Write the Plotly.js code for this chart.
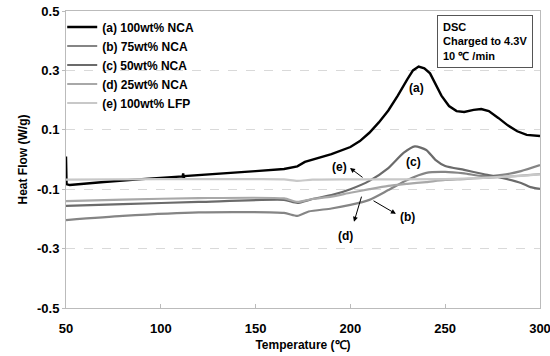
<!DOCTYPE html>
<html><head><meta charset="utf-8">
<script src="https://cdn.plot.ly/plotly-3.0.1.min.js"></script>
<style>body{margin:0;background:#fff}#c{width:550px;height:356px}</style>
</head><body><div id="c"></div>
<script>
// Temperature (°C) and heat flow (W/g)
const tA = [50, 50.3, 52, 60, 70, 90, 111.5, 111.8, 112.1, 112.4, 130, 150, 165, 172, 176, 180, 190, 200, 205, 210, 215, 220, 225, 230, 233, 236, 239, 242, 245, 248, 252, 256, 260, 265, 269, 273, 278, 283, 288, 293, 300];
const vA = [0.01, -0.083, -0.086, -0.081, -0.076, -0.066, -0.057, -0.047, -0.066, -0.056, -0.047, -0.039, -0.032, -0.023, -0.008, 0.0, 0.018, 0.042, 0.062, 0.09, 0.125, 0.165, 0.215, 0.27, 0.3, 0.313, 0.307, 0.29, 0.255, 0.215, 0.18, 0.163, 0.16, 0.167, 0.17, 0.163, 0.14, 0.115, 0.095, 0.083, 0.079];

const tB = [50, 80, 120, 165, 172, 178, 190, 200, 210, 220, 230, 240, 250, 260, 270, 280, 290, 300];
const vB = [-0.204, -0.19, -0.178, -0.18, -0.19, -0.175, -0.165, -0.153, -0.136, -0.103, -0.069, -0.045, -0.042, -0.047, -0.056, -0.052, -0.039, -0.019];

const tC = [50, 80, 120, 165, 172, 180, 190, 200, 210, 220, 228, 234, 240, 245, 250, 260, 270, 280, 290, 295, 300];
const vC = [-0.156, -0.15, -0.143, -0.136, -0.146, -0.133, -0.12, -0.1, -0.072, -0.029, 0.022, 0.044, 0.032, -0.002, -0.022, -0.035, -0.049, -0.062, -0.079, -0.093, -0.099];

const tD = [50, 80, 120, 165, 172, 180, 190, 200, 210, 220, 230, 240, 250, 260, 270, 280, 290, 300];
const vD = [-0.14, -0.135, -0.13, -0.131, -0.143, -0.133, -0.125, -0.112, -0.1, -0.089, -0.082, -0.076, -0.069, -0.066, -0.062, -0.059, -0.054, -0.049];

const tE = [50, 100, 150, 165, 172, 180, 200, 250, 270, 290, 300];
const vE = [-0.068, -0.066, -0.066, -0.067, -0.072, -0.068, -0.067, -0.066, -0.062, -0.055, -0.05];

const names = ['(a) 100wt% NCA', '(b) 75wt% NCA', '(c) 50wt% NCA', '(d) 25wt% NCA', '(e) 100wt% LFP'];
const yTicks = [-0.5, -0.3, -0.1, 0.1, 0.3, 0.5];
const xTicks = [50, 100, 150, 200, 250, 300];

const F = {family: 'Liberation Sans, Arial, sans-serif', size: 12, color: '#000', weight: 'bold'};
const FT = {family: F.family, size: 13, color: '#000', weight: 'bold'};

function tr(x, y, name, color, w) {
  return {x: x, y: y, name: name, type: 'scatter', mode: 'lines', line: {color: color, width: w, shape: 'spline', smoothing: 0.6}};
}
const data = [
  tr(tA, vA, names[0], '#000000', 2.4),
  tr(tB, vB, names[1], '#858585', 2.2),
  tr(tC, vC, names[2], '#6b6b6b', 2.2),
  tr(tD, vD, names[3], '#a8a8a8', 2.2),
  tr(tE, vE, names[4], '#c8c8c8', 2.2)
];
data[0].line.shape = 'linear';

function lab(x, y, t) { return {x: x, y: y, text: t, showarrow: false, font: F, xref: 'x', yref: 'y'}; }
function arr(x, y, ax, ay) {
  return {x: x, y: y, ax: ax, ay: ay, axref: 'x', ayref: 'y', xref: 'x', yref: 'y', text: '', showarrow: true,
          arrowhead: 2, arrowsize: 1, arrowwidth: 1, arrowcolor: '#000', standoff: 0, startstandoff: 0};
}

const layout = {
  width: 550, height: 356,
  margin: {l: 66, r: 10, t: 11, b: 48},
  paper_bgcolor: '#fff', plot_bgcolor: '#fff',
  font: F,
  showlegend: true,
  legend: {x: -0.008, y: 0.995, xanchor: 'left', yanchor: 'top', bgcolor: 'rgba(0,0,0,0)', font: F, tracegroupgap: 0, itemwidth: 30},
  xaxis: {range: [49.999, 300.001], tickvals: xTicks, ticktext: xTicks.map(String), ticks: 'inside', ticklen: 4, tickcolor: '#bbb',
          showgrid: false, zeroline: false, showline: true, linecolor: '#bbb', linewidth: 1, mirror: true,
          ticklabelstandoff: 8, ticklabeloverflow: 'allow', tickfont: FT, title: {text: 'Temperature (℃)', font: F, standoff: 6}},
  yaxis: {range: [-0.5, 0.5], tickvals: yTicks, ticktext: yTicks.map(v => v.toFixed(1)), ticks: 'outside', ticklen: 3, tickcolor: '#bbb',
          showgrid: true, gridcolor: '#d9d9d9', griddash: 'dash', gridwidth: 1, zeroline: false, showline: true, linecolor: '#bbb', linewidth: 1, mirror: true,
          tickfont: FT, title: {text: 'Heat Flow (W/g)', font: F, standoff: 6}},
  annotations: [
    lab(235.1, 0.241, '(a)'),
    lab(229.9, -0.194, '(b)'),
    lab(233.5, -0.008, '(c)'),
    lab(197.2, -0.256, '(d)'),
    lab(194.3, -0.025, '(e)'),
    arr(224.0, -0.183, 211.4, -0.136),
    arr(201.9, -0.21, 206.1, -0.12),
    arr(199.8, -0.0286, 207.2, -0.064),
    {xref: 'paper', yref: 'paper', x: 0.783, y: 0.988, xanchor: 'left', yanchor: 'top', align: 'left', showarrow: false,
     text: 'DSC<br>Charged to 4.3V<br>10 ℃ /min', font: {family: F.family, size: 11, color: '#000', weight: 'bold'},
     bordercolor: '#555', borderwidth: 1, borderpad: 5, bgcolor: '#fff'}
  ]
};
Plotly.newPlot('c', data, layout, {staticPlot: true});
</script></body></html>
